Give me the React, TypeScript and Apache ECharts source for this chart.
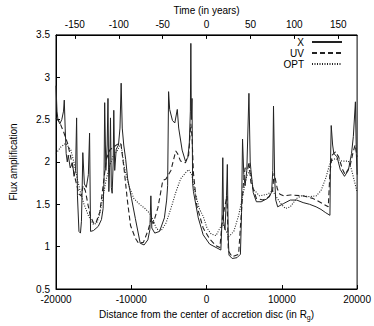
import React, { useEffect, useRef } from "react";
import * as echarts from "echarts";

// Distance (R_g) and flux amplification for each band
const xDist = [-20000, -19870, -19740, -19490, -19230, -19000, -18900, -18780, -18650, -18500, -18370, -18110, -17810, -17600, -17400, -17261, -17150, -16950, -16750, -16620, -16520, -16440, -16230, -15975, -15700, -15540, -15410, -15020, -14380, -13960, -13740, -13620, -13532, -13380, -13200, -13094, -12980, -12850, -12760, -12650, -12540, -12400, -12323, -12200, -12000, -11700, -11500, -11346, -11200, -11000, -10741, -10480, -9970, -9455, -8810, -8300, -7800, -7530, -7397, -7270, -6880, -6240, -5600, -5300, -5170, -5044, -4900, -4530, -4220, -3886, -3700, -3244, -2806, -2500, -2300, -2150, -2086, -2020, -1930, -1850, -1740, -1100, -450, 410, 1260, 1900, 2050, 2158, 2260, 2450, 2650, 2762, 2880, 2981, 3405, 4048, 4500, 4650, 4781, 4950, 5116, 5350, 5630, 5800, 5890, 6200, 6620, 7260, 8120, 8640, 8800, 8896, 9050, 9192, 9450, 10260, 11120, 11980, 12830, 13690, 14555, 15200, 15840, 16394, 16450, 16561, 16750, 16908, 17333, 17770, 18323, 18837, 19262, 19500, 19776, 19900, 20000];
const xFlux = [2.9, 2.6, 2.5, 2.45, 2.5, 2.6, 2.73, 2.4, 2.1, 2.0, 2.08, 1.93, 1.99, 1.83, 1.9, 2.52, 1.6, 1.18, 1.16, 1.3, 1.7, 2.11, 1.74, 1.7, 1.85, 2.34, 1.18, 1.19, 1.24, 1.32, 1.45, 1.8, 2.7, 1.9, 2.2, 2.75, 1.65, 2.0, 2.52, 1.7, 1.63, 2.0, 2.61, 1.9, 2.15, 2.2, 2.4, 2.93, 2.4, 2.2, 2.03, 1.8, 1.57, 1.33, 1.04, 1.02, 1.08, 1.2, 1.6, 1.22, 1.16, 1.18, 1.34, 1.55, 1.72, 2.83, 2.62, 2.49, 2.46, 2.62, 2.4, 2.14, 2.01, 2.05, 2.2, 2.6, 3.4, 2.5, 2.75, 1.75, 1.65, 1.34, 1.14, 1.03, 0.99, 0.96, 1.3, 2.05, 1.3, 1.2, 1.6, 1.97, 1.1, 0.9, 0.86, 0.87, 0.91, 1.4, 2.27, 1.85, 1.72, 1.9, 2.81, 2.0, 1.91, 1.64, 1.53, 1.53, 1.57, 1.64, 1.9, 2.66, 1.8, 1.55, 1.47, 1.51, 1.55, 1.55, 1.52, 1.5, 1.47, 1.44, 1.4, 1.37, 1.9, 2.43, 2.2, 2.1, 2.06, 1.91, 1.83, 1.9, 2.1, 2.3, 2.71, 2.1, 1.85];

const uvDist = [-20000, -19520, -18970, -18460, -18030, -17810, -17390, -16950, -16660, -16400, -16100, -15760, -15460, -15020, -14730, -14180, -13740, -13310, -12880, -12450, -11810, -11380, -10960, -10520, -10100, -9460, -9030, -8390, -7740, -7310, -7100, -6460, -5815, -5380, -4735, -4090, -3860, -3450, -2810, -2380, -2090, -1930, -1740, -1310, -450, 410, 1260, 1770, 2120, 2380, 2720, 2890, 3405, 4260, 4600, 4910, 5120, 5460, 5630, 5890, 6620, 7480, 8330, 8770, 8980, 9410, 9750, 10260, 11120, 12830, 14120, 15400, 16170, 16390, 16690, 17130, 17550, 18070, 18410, 19060, 19480, 19740, 20000];
const uvFlux = [2.52, 2.47, 2.35, 2.22, 2.05, 1.95, 1.78, 1.62, 1.6, 1.72, 1.66, 1.5, 1.37, 1.28, 1.27, 1.41, 1.72, 2.03, 2.14, 2.17, 2.21, 2.22, 1.92, 1.55, 1.25, 1.1, 1.04, 1.05, 1.2, 1.34, 1.27, 1.46, 1.78, 1.8, 1.9, 2.13, 2.1, 2.01, 1.99, 2.08, 2.45, 2.3, 1.87, 1.49, 1.22, 1.09, 1.01, 0.99, 1.34, 1.45, 1.6, 0.95, 0.88, 0.91, 1.37, 1.76, 1.93, 1.91, 2.0, 1.76, 1.57, 1.55, 1.59, 1.66, 1.87, 1.68, 1.62, 1.6, 1.61, 1.6, 1.57, 1.51, 1.47, 1.87, 2.08, 2.12, 2.06, 1.91, 1.85, 1.95, 2.12, 2.2, 2.06];

const optDist = [-20000, -19320, -18680, -18030, -17600, -17170, -16750, -16310, -15670, -15020, -14600, -14180, -13740, -13310, -12880, -12450, -11810, -11380, -10960, -10320, -9670, -9030, -8170, -7530, -7100, -6660, -6020, -5380, -4735, -4090, -3450, -2810, -2380, -1960, -1520, -970, -450, 60, 615, 1260, 1900, 2120, 2500, 2980, 3620, 4270, 4690, 5330, 5760, 6200, 7040, 8120, 8770, 9190, 9840, 10480, 11120, 11980, 12630, 13690, 14560, 15200, 15840, 16480, 17130, 17980, 18840, 19260, 19900, 20000];
const optFlux = [2.1, 2.18, 2.22, 2.14, 1.99, 1.8, 1.64, 1.51, 1.36, 1.26, 1.28, 1.39, 1.6, 1.8, 1.95, 2.06, 2.14, 2.22, 1.95, 1.72, 1.57, 1.51, 1.45, 1.39, 1.32, 1.21, 1.19, 1.28, 1.45, 1.64, 1.8, 1.87, 1.91, 1.85, 1.64, 1.45, 1.36, 1.22, 1.15, 1.13, 1.24, 1.28, 1.2, 1.12, 1.18, 1.37, 1.55, 1.83, 1.91, 1.68, 1.6, 1.62, 1.66, 1.6, 1.51, 1.45, 1.47, 1.57, 1.6, 1.59, 1.6, 1.66, 1.81, 2.01, 2.04, 2.01, 2.01, 1.91, 1.68, 1.64];

const seriesNames = ["X", "UV", "OPT"];
const timeTicks = [-150, -100, -50, 0, 50, 100, 150];

const zip = (a: number[], b: number[]) => a.map((v, i) => [v, b[i]]);

export default function App() {
  const ref = useRef<HTMLDivElement>(null);
  useEffect(() => {
    if (!ref.current) return;
    const chart = echarts.init(ref.current, null, { renderer: "svg" });
    const font = "Liberation Sans";
    const lineColor = "#222";
    const plain = (v: number) => String(v);
    chart.setOption({
      animation: false,
      backgroundColor: "#fff",
      textStyle: { fontFamily: font },
      grid: { left: 48, right: 15, top: 32, bottom: 33, show: true, borderColor: "#000", borderWidth: 1 },
      legend: {
        data: seriesNames,
        orient: "vertical",
        right: 26,
        top: 32,
        align: "right",
        itemWidth: 30,
        itemHeight: 10,
        itemGap: 1,
        itemStyle: { opacity: 0 },
        textStyle: { fontFamily: font, fontSize: 10, color: "#000", padding: [0, 3, 0, 0] },
      },
      xAxis: [
        {
          type: "value",
          min: -20000,
          max: 20000,
          interval: 10000,
          position: "bottom",
          name: "Distance from the center of accretion disc (in R{sub|g})",
          nameLocation: "middle",
          nameGap: 19,
          nameTextStyle: {
            fontFamily: font,
            fontSize: 10,
            color: "#000",
            rich: { sub: { fontFamily: font, fontSize: 7, color: "#000", verticalAlign: "bottom", padding: [6, 0, 0, 0] } },
          },
          axisLine: { show: true, onZero: false, lineStyle: { color: "#000", width: 1 } },
          axisTick: { inside: true, length: 4, lineStyle: { color: "#000" } },
          axisLabel: { fontFamily: font, fontSize: 10, color: "#000", margin: 5, formatter: plain },
          splitLine: { show: false },
        },
        {
          type: "value",
          min: -171.5,
          max: 171.5,
          position: "top",
          name: "Time (in years)",
          nameLocation: "middle",
          nameGap: 19,
          nameTextStyle: { fontFamily: font, fontSize: 10, color: "#000" },
          axisLine: { show: true, onZero: false, lineStyle: { color: "#000", width: 1 } },
          axisTick: { inside: true, length: 4, lineStyle: { color: "#000" }, customValues: timeTicks },
          axisLabel: { fontFamily: font, fontSize: 10, color: "#000", margin: 5, customValues: timeTicks, formatter: plain },
          splitLine: { show: false },
        },
      ],
      yAxis: {
        type: "value",
        min: 0.5,
        max: 3.5,
        interval: 0.5,
        name: "Flux amplification",
        nameLocation: "middle",
        nameGap: 38,
        nameTextStyle: { fontFamily: font, fontSize: 10, color: "#000" },
        axisLine: { show: true, onZero: false, lineStyle: { color: "#000", width: 1 } },
        axisTick: { inside: true, length: 4, lineStyle: { color: "#000" } },
        axisLabel: { fontFamily: font, fontSize: 10, color: "#000", margin: 6, formatter: plain },
        splitLine: { show: false },
      },
      series: [
        {
          name: "X",
          type: "line",
          data: zip(xDist, xFlux),
          symbol: "none",
          showSymbol: false,
          lineStyle: { color: lineColor, width: 1, type: "solid" },
          itemStyle: { color: lineColor },
        },
        {
          name: "UV",
          type: "line",
          data: zip(uvDist, uvFlux),
          symbol: "none",
          showSymbol: false,
          lineStyle: { color: lineColor, width: 1.1, type: [5, 3] },
          itemStyle: { color: lineColor },
        },
        {
          name: "OPT",
          type: "line",
          data: zip(optDist, optFlux),
          symbol: "none",
          showSymbol: false,
          lineStyle: { color: lineColor, width: 1.1, type: [1, 1.5] },
          itemStyle: { color: lineColor },
        },
      ],
    });
    return () => chart.dispose();
  }, []);
  return (
    <div
      ref={ref}
      style={{ position: "fixed", left: 0, top: 0, width: 374, height: 326, background: "#fff" }}
    />
  );
}
